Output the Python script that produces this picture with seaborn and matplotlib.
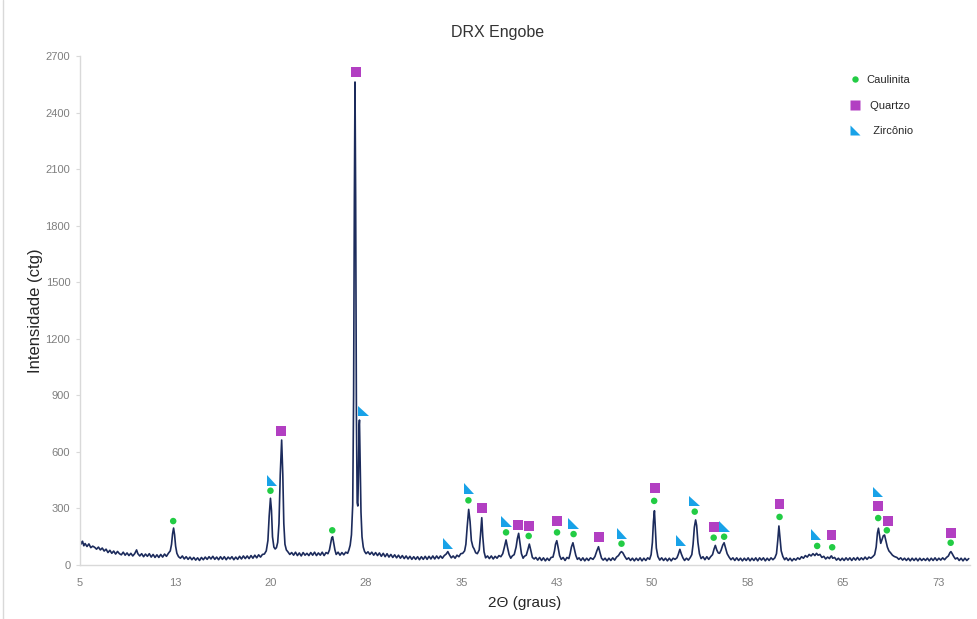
import numpy as np
import pandas as pd
import seaborn as sns
import matplotlib
matplotlib.use("Agg")
import matplotlib.pyplot as plt
from matplotlib.path import Path
from matplotlib.lines import Line2D

# Diffractogram: 2-theta (degrees) and intensity (counts)
two_theta = [
    5.00, 5.10, 5.20, 5.30, 5.40, 5.55, 5.70, 5.85, 6.00, 6.15, 6.30, 6.45, 6.60, 6.75, 6.90, 7.05,
    7.20, 7.35, 7.50, 7.65, 7.80, 7.95, 8.10, 8.25, 8.40, 8.55, 8.70, 8.85, 9.00, 9.15, 9.30, 9.45,
    9.55, 9.70, 9.85, 10.00, 10.15, 10.30, 10.45, 10.60, 10.75, 10.90, 11.05, 11.20, 11.35, 11.50,
    11.65, 11.80, 11.95, 12.10, 12.20, 12.28, 12.36, 12.44, 12.52, 12.62, 12.75, 12.90, 13.05, 13.20,
    13.35, 13.50, 13.65, 13.80, 13.95, 14.10, 14.25, 14.40, 14.55, 14.70, 14.85, 15.00, 15.15, 15.30,
    15.45, 15.60, 15.75, 15.90, 16.05, 16.20, 16.35, 16.50, 16.65, 16.80, 16.95, 17.10, 17.25, 17.40,
    17.55, 17.70, 17.85, 18.00, 18.15, 18.30, 18.45, 18.60, 18.75, 18.90, 19.05, 19.20, 19.35, 19.50,
    19.65, 19.78, 19.88, 19.98, 20.06, 20.14, 20.25, 20.35, 20.45, 20.55, 20.65, 20.75, 20.86, 20.95,
    21.03, 21.12, 21.23, 21.35, 21.50, 21.65, 21.80, 21.95, 22.10, 22.25, 22.40, 22.55, 22.70, 22.85,
    23.00, 23.15, 23.30, 23.45, 23.60, 23.75, 23.90, 24.05, 24.20, 24.35, 24.50, 24.62, 24.72, 24.80,
    24.87, 24.95, 25.05, 25.15, 25.30, 25.45, 25.60, 25.75, 25.90, 26.05, 26.15, 26.25, 26.35, 26.45,
    26.52, 26.58, 26.63, 26.68, 26.74, 26.80, 26.85, 26.90, 26.95, 26.98, 27.03, 27.10, 27.18, 27.28,
    27.38, 27.50, 27.65, 27.80, 27.95, 28.10, 28.25, 28.40, 28.55, 28.70, 28.85, 29.00, 29.15, 29.30,
    29.45, 29.60, 29.75, 29.90, 30.05, 30.20, 30.35, 30.50, 30.65, 30.80, 30.95, 31.10, 31.25, 31.40,
    31.55, 31.70, 31.85, 32.00, 32.15, 32.30, 32.45, 32.60, 32.75, 32.90, 33.05, 33.20, 33.35, 33.50,
    33.65, 33.80, 33.93, 34.05, 34.20, 34.35, 34.50, 34.65, 34.80, 34.95, 35.10, 35.25, 35.35, 35.45,
    35.57, 35.68, 35.78, 35.90, 36.00, 36.12, 36.25, 36.40, 36.50, 36.60, 36.68, 36.78, 36.90, 37.05,
    37.20, 37.35, 37.50, 37.65, 37.80, 37.95, 38.10, 38.25, 38.38, 38.51, 38.62, 38.75, 38.88, 39.00,
    39.15, 39.30, 39.40, 39.50, 39.60, 39.72, 39.85, 39.95, 40.10, 40.22, 40.34, 40.45, 40.58, 40.72,
    40.85, 41.00, 41.15, 41.30, 41.45, 41.60, 41.75, 41.90, 42.05, 42.20, 42.32, 42.40, 42.50, 42.60,
    42.72, 42.85, 43.00, 43.15, 43.30, 43.45, 43.55, 43.65, 43.77, 43.88, 44.00, 44.12, 44.25, 44.40,
    44.55, 44.70, 44.85, 45.00, 45.15, 45.35, 45.50, 45.65, 45.78, 45.90, 46.02, 46.15, 46.30, 46.45,
    46.60, 46.75, 46.90, 47.05, 47.20, 47.35, 47.50, 47.59, 47.70, 47.85, 48.00, 48.15, 48.30, 48.45,
    48.60, 48.75, 48.90, 49.05, 49.20, 49.35, 49.50, 49.65, 49.80, 49.92, 50.02, 50.10, 50.18, 50.25,
    50.33, 50.45, 50.60, 50.75, 50.90, 51.05, 51.20, 51.35, 51.50, 51.65, 51.80, 51.95, 52.05, 52.18,
    52.30, 52.42, 52.55, 52.70, 52.85, 53.00, 53.12, 53.22, 53.32, 53.42, 53.50, 53.60, 53.72, 53.85,
    54.00, 54.15, 54.30, 54.45, 54.60, 54.75, 54.87, 54.97, 55.08, 55.20, 55.30, 55.42, 55.55, 55.66,
    55.78, 55.90, 56.05, 56.20, 56.35, 56.50, 56.65, 56.80, 56.95, 57.10, 57.25, 57.40, 57.55, 57.70,
    57.85, 58.00, 58.15, 58.30, 58.45, 58.60, 58.75, 58.90, 59.05, 59.20, 59.35, 59.50, 59.65, 59.78,
    59.88, 59.97, 60.05, 60.15, 60.28, 60.42, 60.55, 60.70, 60.85, 61.00, 61.15, 61.30, 61.45, 61.60,
    61.75, 61.90, 62.05, 62.20, 62.35, 62.50, 62.65, 62.80, 62.93, 63.05, 63.20, 63.35, 63.50, 63.65,
    63.80, 63.95, 64.05, 64.11, 64.20, 64.35, 64.50, 64.65, 64.80, 64.95, 65.10, 65.25, 65.40, 65.55,
    65.70, 65.85, 66.00, 66.15, 66.30, 66.45, 66.60, 66.75, 66.90, 67.05, 67.20, 67.35, 67.50, 67.62,
    67.72, 67.80, 67.88, 67.98, 68.08, 68.18, 68.28, 68.38, 68.50, 68.62, 68.75, 68.90, 69.05, 69.25,
    69.40, 69.55, 69.70, 69.85, 70.00, 70.15, 70.30, 70.45, 70.60, 70.75, 70.90, 71.05, 71.20, 71.35,
    71.50, 71.65, 71.80, 71.95, 72.10, 72.25, 72.40, 72.55, 72.70, 72.85, 73.00, 73.15, 73.30, 73.42,
    73.50, 73.60, 73.72, 73.85, 74.00, 74.15, 74.30, 74.45, 74.60, 74.75, 74.90,
]
counts = [
    133, 112, 126, 102, 114, 98, 112, 92, 100, 94, 84, 95, 80, 90, 74, 84,
    66, 78, 62, 74, 58, 72, 60, 54, 68, 52, 64, 50, 62, 48, 60, 80,
    60, 48, 60, 44, 58, 46, 60, 42, 56, 40, 54, 40, 56, 42,
    58, 46, 62, 75, 110, 165, 196, 160, 100, 62, 44, 36, 48, 32,
    44, 30, 42, 28, 40, 26, 38, 24, 40, 28, 42, 30, 44, 32,
    46, 30, 42, 28, 44, 30, 44, 28, 42, 32, 44, 28, 42, 30,
    46, 32, 48, 34, 48, 34, 50, 36, 52, 38, 54, 42, 56, 58,
    75, 130, 260, 354, 290, 150, 95, 85, 92, 120, 220, 480, 663, 480,
    220, 110, 80, 70, 56, 66, 52, 68, 50, 64, 48, 66, 52, 62,
    50, 66, 52, 68, 50, 64, 52, 68, 50, 66, 60, 80, 115, 145,
    150, 120, 80, 56, 68, 52, 66, 54, 68, 62, 80, 105, 160, 320,
    900, 1950, 2562, 1950, 800, 330, 313, 480, 740, 769, 560, 280, 150, 95,
    72, 60, 70, 56, 68, 52, 66, 50, 64, 46, 62, 44, 60, 42,
    56, 40, 54, 38, 52, 36, 50, 34, 48, 32, 46, 30, 44, 30,
    44, 28, 44, 30, 46, 30, 46, 32, 48, 32, 48, 34, 48, 36,
    50, 58, 71, 55, 38, 48, 36, 52, 44, 60, 62, 75, 110, 200,
    295, 230, 130, 97, 85, 65, 60, 80, 160, 251, 150, 70, 38, 48,
    34, 48, 32, 46, 36, 50, 44, 60, 95, 133, 95, 55, 36, 48,
    55, 95, 140, 168, 120, 60, 36, 46, 52, 80, 111, 80, 40, 32,
    40, 26, 40, 24, 38, 22, 36, 24, 40, 42, 75, 110, 129, 95,
    50, 30, 40, 24, 40, 34, 60, 95, 118, 85, 50, 30, 38, 24,
    38, 22, 36, 24, 38, 30, 45, 75, 97, 65, 36, 26, 36, 22,
    36, 24, 38, 26, 42, 50, 66, 71, 64, 45, 30, 38, 24, 36,
    22, 36, 24, 38, 22, 36, 24, 38, 30, 55, 120, 230, 288, 200,
    90, 45, 26, 38, 24, 36, 22, 36, 22, 36, 30, 38, 55, 83,
    58, 38, 24, 36, 26, 40, 55, 110, 200, 239, 210, 120, 60, 34,
    44, 28, 44, 30, 44, 55, 85, 104, 80, 64, 62, 78, 105, 118,
    90, 60, 42, 28, 38, 24, 38, 24, 36, 22, 36, 24, 38, 22,
    36, 24, 38, 22, 38, 26, 38, 22, 36, 24, 38, 28, 38, 60,
    130, 207, 150, 75, 45, 28, 38, 24, 36, 22, 34, 26, 38, 30,
    44, 36, 50, 42, 56, 48, 60, 50, 62, 52, 56, 40, 46, 32,
    42, 34, 46, 48, 36, 40, 26, 36, 24, 36, 24, 38, 26, 38,
    24, 38, 26, 40, 26, 38, 28, 42, 30, 42, 36, 44, 55, 95,
    170, 195, 160, 115, 135, 155, 159, 130, 95, 75, 65, 52, 45, 40,
    30, 38, 26, 36, 24, 36, 22, 36, 24, 36, 22, 36, 24, 34,
    24, 36, 22, 36, 24, 38, 24, 36, 26, 38, 28, 40, 48, 65,
    71, 60, 45, 32, 38, 24, 36, 22, 36, 24, 34,
]

# Phase identification marks (2-theta, intensity where the symbol sits)
caulinita_x = [12.33, 19.98, 24.84, 35.55, 38.51, 40.29, 42.52, 43.82, 47.59, 50.16,
               53.35, 54.84, 55.66, 60.02, 62.98, 64.16, 67.78, 68.46, 73.48]
caulinita_y = [233, 394, 184, 343, 173, 154, 173, 164, 113, 340,
               283, 145, 150, 255, 101, 94, 249, 184, 118]

quartzo_x = [20.84, 26.68, 36.60, 39.48, 40.31, 42.52, 45.81, 50.21, 54.84, 60.02,
             64.11, 67.78, 68.53, 73.48]
quartzo_y = [711, 2615, 302, 212, 209, 232, 150, 407, 200, 322,
             161, 315, 235, 170]

zirconio_x = [20.10, 27.28, 33.93, 35.60, 38.54, 43.82, 47.62, 52.28, 53.35, 55.71,
              62.90, 67.78]
zirconio_y = [447, 817, 115, 407, 230, 221, 166, 131, 340, 203,
              163, 387]

x_ticks = [5, 12.5, 20, 27.5, 35, 42.5, 50, 57.5, 65, 72.5]
x_tick_labels = ["5", "13", "20", "28", "35", "43", "50", "58", "65", "73"]
y_ticks = [0, 300, 600, 900, 1200, 1500, 1800, 2100, 2400, 2700]

LINE = "#1c2b5c"
GREEN = "#22cc44"
MAGENTA = "#b23fc2"
BLUE = "#18a2e8"
TICK_GREY = "#7f7f7f"
AXIS_GREY = "#d9d9d9"

sns.set_theme(style="white")
plt.rcParams["font.family"] = ["Liberation Sans", "DejaVu Sans"]

fig = plt.figure(figsize=(9.78, 6.19), dpi=100)
ax = fig.add_axes([80 / 978, 54 / 619, 890 / 978, 509 / 619])

# thin frame line along the left edge of the chart area
fig.add_artist(Line2D([3.5 / 978, 3.5 / 978], [0, 1], transform=fig.transFigure,
                      color=AXIS_GREY, linewidth=1.0))

trace = pd.DataFrame({"two_theta": two_theta, "counts": counts})
sns.lineplot(data=trace, x="two_theta", y="counts", ax=ax, color=LINE,
             linewidth=1.2, estimator=None, sort=False, zorder=2)

# right-angle triangle glyph used for zircon
tri = Path([(-1, 1), (-1, -1), (1, -1), (-1, 1)],
           [Path.MOVETO, Path.LINETO, Path.LINETO, Path.CLOSEPOLY])

sns.scatterplot(x=caulinita_x, y=caulinita_y, ax=ax, marker="o", s=22,
                color=GREEN, edgecolor="none", zorder=3)
sns.scatterplot(x=quartzo_x, y=quartzo_y, ax=ax, marker="s", s=50,
                color=MAGENTA, edgecolor="none", zorder=3)
sns.scatterplot(x=zirconio_x, y=zirconio_y, ax=ax, marker=tri, s=58,
                color=BLUE, edgecolor="none", zorder=3)

ax.set_xlim(5, 75)
ax.set_ylim(0, 2700)
ax.set_xticks(x_ticks)
ax.set_xticklabels(x_tick_labels)
ax.set_yticks(y_ticks)
ax.tick_params(axis="x", length=0, pad=9, labelsize=8, labelcolor=TICK_GREY)
ax.tick_params(axis="y", length=3, width=0.8, color=AXIS_GREY, pad=4,
               labelsize=8, labelcolor=TICK_GREY, left=True)
for side in ("top", "right"):
    ax.spines[side].set_visible(False)
for side in ("left", "bottom"):
    ax.spines[side].set_color(AXIS_GREY)
    ax.spines[side].set_linewidth(1.0)

ax.set_xlabel("2Θ (graus)", fontsize=11, color="#262626", labelpad=6)
ax.set_ylabel("Intensidade (ctg)", fontsize=12, color="#262626", labelpad=2)

fig.text(498 / 978, 1 - 32 / 619, "DRX Engobe", ha="center", va="center",
         fontsize=11.5, color="#333333")

handles = [
    Line2D([], [], linestyle="none", marker="o", markersize=4.6,
           markerfacecolor=GREEN, markeredgecolor="none"),
    Line2D([], [], linestyle="none", marker="s", markersize=7,
           markerfacecolor=MAGENTA, markeredgecolor="none"),
    Line2D([], [], linestyle="none", marker=tri, markersize=7.5,
           markerfacecolor=BLUE, markeredgecolor="none"),
]
fig.legend(handles, ["Caulinita", " Quartzo", "  Zircônio"], loc="upper left",
           bbox_to_anchor=(849 / 978, 1 - 75 / 619), frameon=False,
           fontsize=8, handlelength=1.0, handletextpad=0.6,
           labelspacing=1.4, borderpad=0, borderaxespad=0)

fig.savefig("out.png", dpi=100)
